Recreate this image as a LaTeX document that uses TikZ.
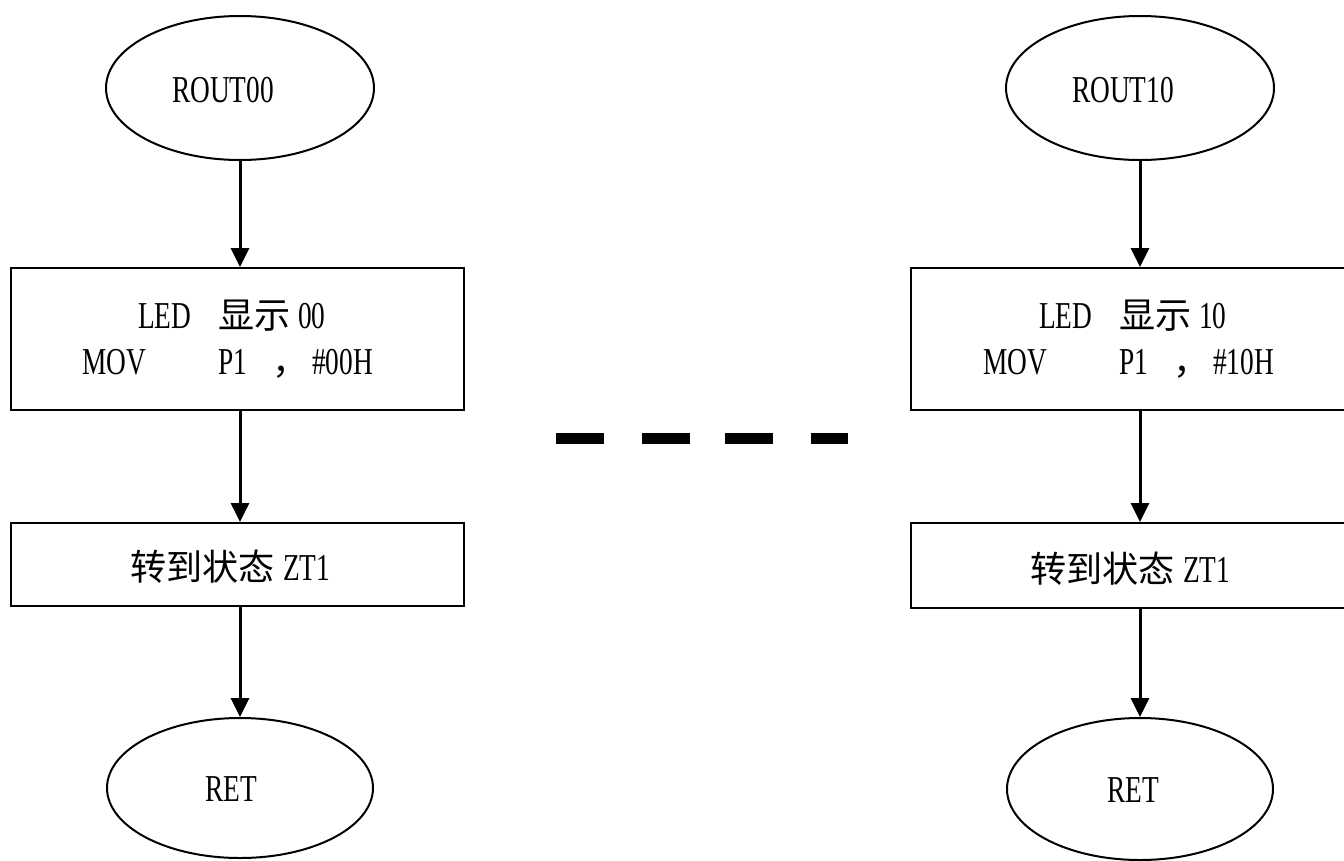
\documentclass[tikz,border=0pt]{standalone}
\usepackage{fontspec}
\setmainfont{Liberation Serif}[FakeStretch=0.72]
\newfontfamily\cjk{Noto Sans CJK SC}[Scale=0.95]
\usetikzlibrary{shapes.geometric,arrows.meta}
\begin{document}
\begin{tikzpicture}[x=1pt,y=-1pt,
  term/.style={draw,line width=2pt,ellipse,inner sep=0pt,minimum width=268pt,minimum height=144pt},
  procbox/.style={draw,line width=2.4pt,rectangle,inner sep=0pt,anchor=north west},
  txt/.style={inner sep=0pt,anchor=base west,font=\fontsize{38}{42}\selectfont},
  flow/.style={line width=3pt,-{Triangle[width=18pt,length=19pt]}},
  gap/.style={fill=black}]
\useasboundingbox (0,0) rectangle (1344,860);
\clip (0,0) rectangle (1344,860);

% left routine
\node[term] (sL) at (240,88) {};
\node[txt] (sLt) at (172,102) {ROUT00};
\node[procbox,minimum width=453pt,minimum height=142pt] (aL) at (10,267) {};
\node[txt] (aL1) at (138,328) {LED};
\node[txt] (aL2) at (218,328) {\cjk 显示};
\node[txt] (aL3) at (298,328) {00};
\node[txt] (aL4) at (82,374) {MOV};
\node[txt] (aL5) at (218,374) {P1};
\node[txt] (aL6) at (272,374) {\cjk ，};
\node[txt] (aL7) at (312,374) {\#00H};
\node[procbox,minimum width=453pt,minimum height=83pt] (bL) at (10,522) {};
\node[txt] (bL1) at (130,580) {\cjk 转到状态};
\node[txt] (bL2) at (283,580) {ZT1};
\node[term,minimum height=140pt,minimum width=266pt] (eL) at (240,788) {};
\node[txt] (eLt) at (205,801) {RET};

\draw[flow] (sL.south) -- (sL.south |- aL.north);
\draw[flow] (sL.south |- aL.south) -- (sL.south |- bL.north);
\draw[flow] (sL.south |- bL.south) -- (eL.north);

% right routine
\node[term] (sR) at (1140,88) {};
\node[txt] (sRt) at (1072,102) {ROUT10};
\node[procbox,minimum width=453pt,minimum height=142pt] (aR) at (910,267) {};
\node[txt] (aR1) at (1039,328) {LED};
\node[txt] (aR2) at (1119,328) {\cjk 显示};
\node[txt] (aR3) at (1199,328) {10};
\node[txt] (aR4) at (983,374) {MOV};
\node[txt] (aR5) at (1119,374) {P1};
\node[txt] (aR6) at (1173,374) {\cjk ，};
\node[txt] (aR7) at (1213,374) {\#10H};
\node[procbox,minimum width=453pt,minimum height=85pt] (bR) at (910,522) {};
\node[txt] (bR1) at (1030,582) {\cjk 转到状态};
\node[txt] (bR2) at (1183,582) {ZT1};
\node[term,minimum height=142pt,minimum width=266pt] (eR) at (1140,789) {};
\node[txt] (eRt) at (1107,802) {RET};

\draw[flow] (sR.south) -- (sR.south |- aR.north);
\draw[flow] (sR.south |- aR.south) -- (sR.south |- bR.north);
\draw[flow] (sR.south |- bR.south) -- (eR.north);

% ellipsis between the two routines
\fill[gap] (556,433) rectangle (604,444);
\fill[gap] (642,433) rectangle (690,444);
\fill[gap] (725,433) rectangle (773,444);
\fill[gap] (811,433) rectangle (848,444);
\end{tikzpicture}
\end{document}
